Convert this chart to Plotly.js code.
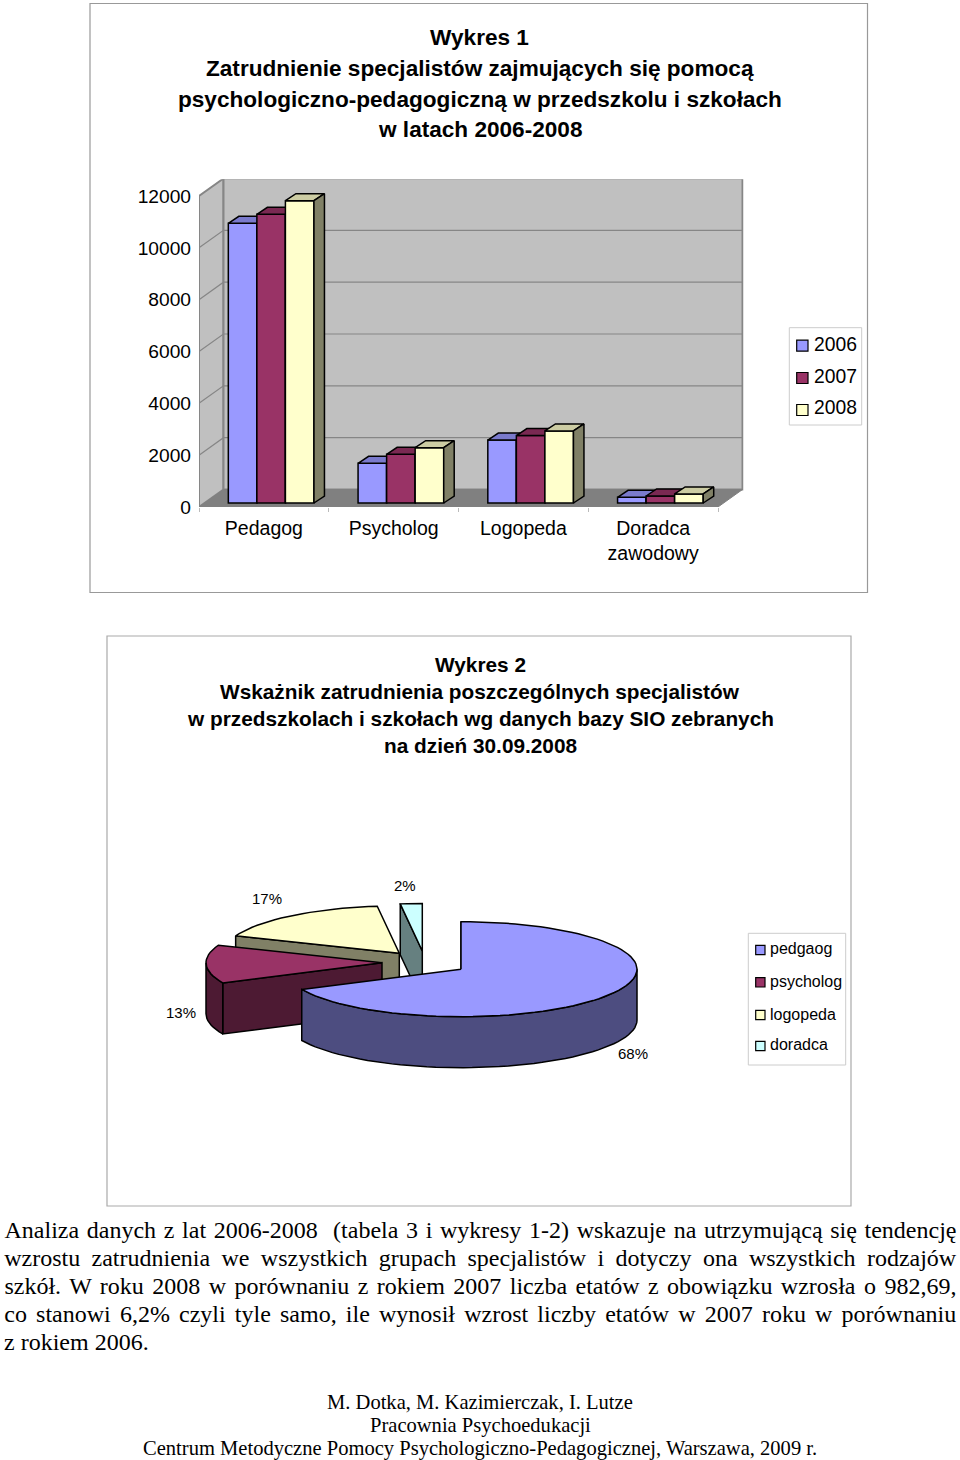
<!DOCTYPE html>
<html><head><meta charset="utf-8">
<script src="https://cdn.plot.ly/plotly-3.0.1.min.js"></script>
<style>html,body{margin:0;padding:0;background:#fff}#chart{width:960px;height:1460px}</style>
</head><body><div id="chart"></div>
<script>
// ---- data: bar chart
const categories = ['Pedagog','Psycholog','Logopeda','Doradca<br>zawodowy'];
const years = ['2006','2007','2008'];
const values2006 = [10790,1530,2430,220];
const values2007 = [11140,1880,2600,270];
const values2008 = [11665,2135,2780,350];
const yTicks = [0,2000,4000,6000,8000,10000,12000];
// ---- data: pie chart
const pieLabels = ['pedgaog','psycholog','logopeda','doradca'];
const pieShares = [68,13,17,2];
const pieText = ['68%','13%','17%','2%'];
// ---- texts
const title1 = ['Wykres 1','Zatrudnienie specjalistów zajmujących się pomocą','psychologiczno-pedagogiczną w przedszkolu i szkołach','w latach 2006-2008'];
const title2 = ['Wykres 2','Wskażnik zatrudnienia poszczególnych specjalistów','w przedszkolach i szkołach wg danych bazy SIO zebranych','na dzień 30.09.2008'];
const bodyLines = [
 'Analiza danych z lat 2006-2008\u00a0 (tabela 3 i wykresy 1-2) wskazuje na utrzymującą się tendencję',
 'wzrostu zatrudnienia we wszystkich grupach specjalistów i dotyczy ona wszystkich rodzajów',
 'szkół. W roku 2008 w porównaniu z rokiem 2007 liczba etatów z obowiązku wzrosła o 982,69,',
 'co stanowi 6,2% czyli tyle samo, ile wynosił wzrost liczby etatów w 2007 roku w porównaniu',
 'z rokiem 2006.'];
const credits = ['M. Dotka, M. Kazimierczak, I. Lutze','Pracownia Psychoedukacji','Centrum Metodyczne Pomocy Psychologiczno-Pedagogicznej, Warszawa, 2009 r.'];

// ---- styles
const SANS='"Liberation Sans", Arial, sans-serif', SERIF='"Liberation Serif", "Times New Roman", serif';
const W=960,H=1460;
const barColors=['#9999FF','#993366','#FFFFCC'], barTops=['#7A7ACC','#7A2952','#CCCCA3'], barSides=['#4D4D80','#4D1A33','#808066'];
const pieColors=['#9999FF','#993366','#FFFFCC','#CCFFFF'], pieDark=['#4D4D80','#4D1A33','#808066','#668080'];
const wall='#C0C0C0', floorC='#808080', edge='#868686';
// bar plot geometry (axis units; 1 x unit = 1 category)
const px0=199, px1=743.5, pyBase=507, pyTop=179.3, pxPerCat=129.75, pxPerVal=311/12000;
const xMax=(px1-px0)/pxPerCat, yMax=(pyBase-pyTop)/pxPerVal;
const wallDx=24.5/pxPerCat, wallDy=17.5/pxPerVal, barDx=10.5/pxPerCat, barDy=7/pxPerVal;
const barBase=4/pxPerVal, barW=0.22, barStart=0.226, nCat=categories.length;
const dom={x:[px0/W,px1/W], y:[1-pyBase/H,1-pyTop/H]};
// pie geometry (px axis)
const rx=176, ry=47.5, depth=51;
const pieCentres=[[461,969.2],[382,962.7],[399.3,953.3],[422.3,951]];

const traces=[];
const poly=(xs,ys,fill,line,lw,ax)=>traces.push({type:'scatter',mode:'lines',x:xs,y:ys,fill:'toself',fillcolor:fill,line:{color:line,width:lw},xaxis:ax[0],yaxis:ax[1],hoverinfo:'skip',showlegend:false});
const base=['x','y'];
// walls and floor
poly([0,wallDx,wallDx,0,0],[0,wallDy,yTicks[6]+wallDy,yTicks[6],0],wall,edge,2,base);
poly([wallDx,nCat+wallDx,nCat+wallDx,wallDx,wallDx],[wallDy,wallDy,yTicks[6]+wallDy,yTicks[6]+wallDy,wallDy],wall,edge,2,base);
poly([0,nCat,nCat+wallDx,wallDx,0],[0,0,wallDy,wallDy,0],floorC,floorC,1,base);
yTicks.slice(1,6).forEach(v=>traces.push({type:'scatter',mode:'lines',x:[0,wallDx,nCat+wallDx],y:[v,v+wallDy,v+wallDy],line:{color:edge,width:1.2},hoverinfo:'skip',showlegend:false,xaxis:'x',yaxis:'y'}));
// bars, one overlay per series so that later series hide earlier ones
[values2006,values2007,values2008].forEach((vals,i)=>{
  const ax=['x'+(i+2),'y'+(i+2)];
  const xc=categories.map((c,j)=>j+barStart+barW*(i+0.5));
  traces.push({type:'bar',name:years[i],x:xc,y:vals,base:vals.map(()=>barBase),width:barW,marker:{color:barColors[i],line:{color:'#000',width:1.5}},xaxis:ax[0],yaxis:ax[1],showlegend:false,hoverinfo:'skip'});
  vals.forEach((v,j)=>{
    const l=xc[j]-barW/2,r=xc[j]+barW/2,b=barBase,t=barBase+v;
    poly([l,l+barDx,r+barDx,r,l],[t,t+barDy,t+barDy,t,t],barTops[i],'#000',1.5,ax);
    poly([r,r+barDx,r+barDx,r,r],[b,b+barDy,t+barDy,t,b],barSides[i],'#000',1.5,ax);
  });
});
// pie: painter's order back to front
const pa=['x5','y5'];
const rad=d=>d*Math.PI/180;
const ptX=(c,a)=>c[0]+rx*Math.cos(rad(a)), ptY=(c,a)=>c[1]-ry*Math.sin(rad(a));
const arcAngles=(a0,a1)=>{const n=Math.max(2,Math.ceil(Math.abs(a1-a0)/3)),o=[];for(let k=0;k<=n;k++)o.push(a0+(a1-a0)*k/n);return o;};
let cum=90;const sliceAngles=pieShares.map(s=>{const a=[cum,cum-s*3.6];cum=a[1];return a;});
[3,2,1,0].forEach(i=>{
  const c=pieCentres[i],[a0,a1]=sliceAngles[i];
  // radial wall at the slice start
  const rxs=ptX(c,a0),rys=ptY(c,a0);
  poly([rxs,c[0],c[0],rxs,rxs],[rys,c[1],c[1]+depth,rys+depth,rys],pieDark[i],'#000',1.5,pa);
  // outer rim, front half of the ellipse only
  const from=Math.min(a0,0),to=Math.max(a1,-180);
  if(from>to){const an=arcAngles(from,to);
    const xs=an.map(a=>ptX(c,a)),ys=an.map(a=>ptY(c,a));
    poly(xs.concat(xs.slice().reverse(),[xs[0]]),ys.concat(ys.slice().reverse().map(y=>y+depth),[ys[0]]),pieDark[i],'#000',1.5,pa);}
  // top
  const an=arcAngles(a0,a1);
  poly([c[0],...an.map(a=>ptX(c,a)),c[0]],[c[1],...an.map(a=>ptY(c,a)),c[1]],pieColors[i],'#000',1.5,pa);
});

// ---- annotations and shapes
const anns=[];
const note=(text,x,y,size,opt={})=>anns.push(Object.assign({text,xref:'paper',yref:'paper',x:x/W,y:1-y/H,xanchor:'center',yanchor:'middle',showarrow:false,font:{family:SANS,size,color:'#000'}},opt));
const shapes=[];
const rect=(x0,y0,x1,y1,line,fill,lw)=>shapes.push({type:'rect',xref:'paper',yref:'paper',x0:x0/W,x1:x1/W,y0:1-y0/H,y1:1-y1/H,line:{color:line,width:lw},fillcolor:fill,layer:'above'});
rect(90,3.5,867.5,592.5,'#999','rgba(0,0,0,0)',1.2);
rect(107,636,851,1206,'#aaa','rgba(0,0,0,0)',1.2);
// legend 1
rect(789.3,327.7,861.7,425,'#ccc','#fff',1);
const leg1Y=[345.7,378,410], leg1T=[344,376,408];
years.forEach((t,i)=>{rect(796.7,leg1Y[i]-5.5,808,leg1Y[i]+5.5,'#000',barColors[i],1.2);note(t,812,leg1T[i],19.3,{xanchor:'left'});});
// legend 2
rect(748.3,933.3,845.7,1065,'#ccc','#fff',1);
const leg2Y=[950,982.3,1015,1046], leg2T=[948,981,1014,1044];
pieLabels.forEach((t,i)=>{rect(755.7,leg2Y[i]-4.7,765,leg2Y[i]+4.7,'#000',pieColors[i],1.2);note(t,768,leg2T[i],16,{xanchor:'left'});});
// pie labels
const pieLabelPos=[[633,1053],[181,1013],[267,898],[405,885]];
pieText.forEach((t,i)=>note(t,pieLabelPos[i][0],pieLabelPos[i][1],15));
// chart 1 title, lines after the first
const t1y=[37,68,99,129];
title1.slice(1).forEach((t,i)=>note('<b>'+t+'</b>',479.5,t1y[i+1],22.6));
// chart 2 title
const t2y=[665,692,719,746];
title2.forEach((t,i)=>note('<b>'+t+'</b>',480,t2y[i],20.8));
// body
const bodyY=[1230,1258,1286,1314,1341.5];
bodyLines.forEach((t,i)=>{ if(i<4) note(t,480,bodyY[i],24,{font:{family:SERIF,size:24,color:'#000'}});
  else note(t,2,bodyY[i],24,{xanchor:'left',font:{family:SERIF,size:24,color:'#000'}});});
const credY=[1402,1425,1448];
credits.forEach((t,i)=>note(t,480,credY[i],20.55,{font:{family:SERIF,size:20.55,color:'#000'}}));

const hidden=(over)=>({visible:false,domain:dom.x,range:[0,xMax],overlaying:over,fixedrange:true});
const hiddenY=(over)=>({visible:false,domain:dom.y,range:[0,yMax],overlaying:over,fixedrange:true});
const layout={
  width:W,height:H,margin:{l:0,r:0,t:0,b:0},autosize:false,paper_bgcolor:'#fff',plot_bgcolor:'rgba(0,0,0,0)',showlegend:false,
  title:{text:'<b>'+title1[0]+'</b>',x:479.5/W,xanchor:'center',xref:'paper',y:1-t1y[0]/H,yref:'paper',yanchor:'middle',font:{family:SANS,size:22.6,color:'#000'}},
  xaxis:{domain:dom.x,range:[0,xMax],tickmode:'array',tickvals:categories.map((c,j)=>j+0.5),ticktext:categories,ticks:'',ticklabelstandoff:7,showgrid:false,zeroline:false,showline:false,tickfont:{family:SANS,size:19.5,color:'#000'},fixedrange:true,
    minor:{tickmode:'array',tickvals:[0,1,2,3,4],ticks:'outside',ticklen:4,tickcolor:'#bbb',tickwidth:1,showgrid:false}},
  yaxis:{domain:dom.y,range:[0,yMax],tickmode:'array',tickvals:yTicks,ticks:'',ticklabelstandoff:7,showgrid:false,zeroline:false,showline:false,tickformat:'d',tickfont:{family:SANS,size:19.2,color:'#000'},fixedrange:true},
  xaxis2:hidden('x'),yaxis2:hiddenY('y'),xaxis3:hidden('x'),yaxis3:hiddenY('y'),xaxis4:hidden('x'),yaxis4:hiddenY('y'),
  xaxis5:{visible:false,domain:[0,1],range:[0,W],fixedrange:true},
  yaxis5:{visible:false,domain:[0,1],range:[H,0],fixedrange:true},
  annotations:anns,shapes
};
Plotly.newPlot('chart',traces,layout,{displayModeBar:false,staticPlot:true}).then(()=>{
  // justify the body paragraph: full lines span x = 4..956
  document.querySelectorAll('.annotation-text').forEach(el=>{
    const s=el.textContent;
    if(bodyLines.indexOf(s)>=0 && bodyLines.indexOf(s)<4){
      const gaps=s.split(/[ \u00a0]/).length-1;
      el.style.wordSpacing=((952-el.getComputedTextLength())/gaps)+'px';
    }
  });
});
</script></body></html>
